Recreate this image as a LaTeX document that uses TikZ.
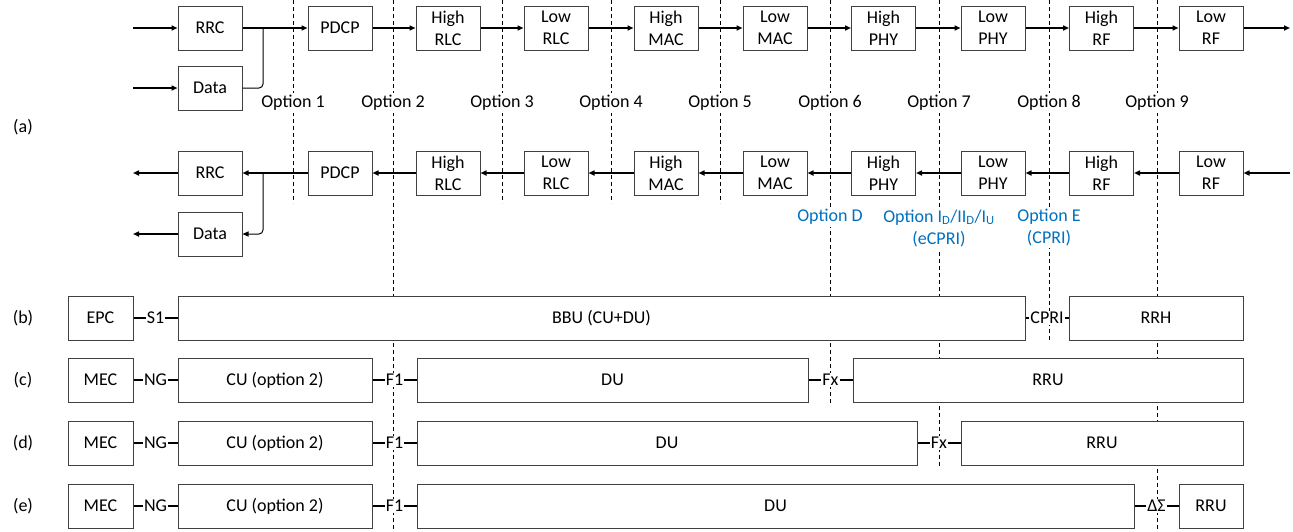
\documentclass[tikz,border=0pt]{standalone}
\usepackage{fontspec}
\setmainfont{Carlito}
\usetikzlibrary{arrows.meta}
\definecolor{optblue}{RGB}{0,112,192}
\definecolor{boxline}{RGB}{64,64,64}
\begin{document}
\begin{tikzpicture}[x=1pt,y=-1pt,
  font=\fontsize{18}{22}\selectfont,
  box/.style={draw=boxline, line width=1pt, fill=white, minimum width=64pt, minimum height=44pt, inner sep=0pt, align=center},
  wbox/.style={box, minimum width=#1},
  arr/.style={line width=1.6pt, -{Triangle[length=6pt,width=5pt]}},
  thinarr/.style={line width=1pt, -{Triangle[length=6pt,width=5pt]}},
  ln/.style={line width=1.6pt},
  cut/.style={line width=0.8pt, dash pattern=on 4pt off 3pt},
  opt/.style={fill=white, inner sep=2pt},
  bopt/.style={fill=white, inner sep=2pt, text=optblue, align=center},
  conn/.style={fill=white, inner sep=1pt},
]
\useasboundingbox (0,0) rectangle (1293,531);

% cut lines and option labels
\foreach \x/\b/\n in {293/203/1, 393/531/2, 502/203/3, 611/203/4, 720/203/5, 830/403/6, 939/467/7, 1049/342/8, 1157/531/9} {
  \coordinate (ct\n) at (\x,0);
  \coordinate (cb\n) at (\x,\b);
  \draw[cut] (ct\n) -- (cb\n);
  \node[opt] (o\n) at (\x,103) {Option \n};
}
\node[bopt] (oD) at (830,217) {Option D};
\node[bopt] (oI) at (939,228) {Option I\textsubscript{D}/II\textsubscript{D}/I\textsubscript{U}\\(eCPRI)};
\node[bopt] (oE) at (1049,228) {Option E\\(CPRI)};

% row labels
\node (la) at (23,127) {(a)};
\node (lb) at (23,318) {(b)};
\node (lc) at (23,380) {(c)};
\node (ld) at (23,443) {(d)};
\node (le) at (23,506) {(e)};

% (a) upper chain
\node[box] (rrc)  at (210,28) {RRC};
\node[box] (data) at (210,88) {Data};
\node[box] (pdcp) at (340,28) {PDCP};
\node[box] (hrlc) at (448,28) {High\\RLC};
\node[box] (lrlc) at (556,28) {Low\\RLC};
\node[box] (hmac) at (666,28) {High\\MAC};
\node[box] (lmac) at (775,28) {Low\\MAC};
\node[box] (hphy) at (883.5,28) {High\\PHY};
\node[box] (lphy) at (993,28) {Low\\PHY};
\node[box] (hrf)  at (1101.5,28) {High\\RF};
\node[box] (lrf)  at (1211,28) {Low\\RF};

\coordinate (inA) at (133,28);
\coordinate (inB) at (133,88);
\coordinate (outA) at (1290,28);
\coordinate (j1) at (263,28);
\draw[arr] (inA) -- (rrc);
\draw[arr] (inB) -- (data);
\draw[line width=1pt, rounded corners=4pt] (data.east) -| (j1);
\draw[arr] (rrc) -- (pdcp);
\draw[arr] (pdcp) -- (hrlc);
\draw[arr] (hrlc) -- (lrlc);
\draw[arr] (lrlc) -- (hmac);
\draw[arr] (hmac) -- (lmac);
\draw[arr] (lmac) -- (hphy);
\draw[arr] (hphy) -- (lphy);
\draw[arr] (lphy) -- (hrf);
\draw[arr] (hrf) -- (lrf);
\draw[arr] (lrf) -- (outA);

% (a) lower chain
\node[box] (rrc2)  at (210,173) {RRC};
\node[box] (data2) at (210,234) {Data};
\node[box] (pdcp2) at (340,173) {PDCP};
\node[box] (hrlc2) at (448,173) {High\\RLC};
\node[box] (lrlc2) at (556,173) {Low\\RLC};
\node[box] (hmac2) at (666,173) {High\\MAC};
\node[box] (lmac2) at (775,173) {Low\\MAC};
\node[box] (hphy2) at (883.5,173) {High\\PHY};
\node[box] (lphy2) at (993,173) {Low\\PHY};
\node[box] (hrf2)  at (1101.5,173) {High\\RF};
\node[box] (lrf2)  at (1211,173) {Low\\RF};

\coordinate (inC) at (1290,173);
\coordinate (outC) at (133,173);
\coordinate (outD) at (133,234);
\coordinate (j2) at (263,173);
\draw[arr] (inC) -- (lrf2);
\draw[arr] (lrf2) -- (hrf2);
\draw[arr] (hrf2) -- (lphy2);
\draw[arr] (lphy2) -- (hphy2);
\draw[arr] (hphy2) -- (lmac2);
\draw[arr] (lmac2) -- (hmac2);
\draw[arr] (hmac2) -- (lrlc2);
\draw[arr] (lrlc2) -- (hrlc2);
\draw[arr] (hrlc2) -- (pdcp2);
\draw[arr] (pdcp2) -- (rrc2);
\draw[arr] (rrc2) -- (outC);
\draw[arr] (data2) -- (outD);
\draw[thinarr, rounded corners=4pt] (j2) |- (data2.east);

% (b)
\node[wbox=65pt] (epc) at (100.5,318) {EPC};
\node[wbox=847pt] (bbu) at (601.5,318) {BBU (CU+DU)};
\node[wbox=174pt] (rrh) at (1156,318) {RRH};
\draw[ln] (epc) -- node[conn] {S1} (bbu);
\draw[ln] (bbu) -- node[conn] {CPRI} (rrh);

% (c)
\node[wbox=65pt] (mecc) at (100.5,380) {MEC};
\node[wbox=194pt] (cuc) at (275,380) {CU (option 2)};
\node[wbox=391pt] (duc) at (612.5,380) {DU};
\node[wbox=390pt] (rruc) at (1048,380) {RRU};
\draw[ln] (mecc) -- node[conn] {NG} (cuc);
\draw[ln] (cuc) -- node[conn] {F1} (duc);
\draw[ln] (duc) -- node[conn] {Fx} (rruc);

% (d)
\node[wbox=65pt] (mecd) at (100.5,443) {MEC};
\node[wbox=194pt] (cud) at (275,443) {CU (option 2)};
\node[wbox=500pt] (dud) at (667,443) {DU};
\node[wbox=282pt] (rrud) at (1102,443) {RRU};
\draw[ln] (mecd) -- node[conn] {NG} (cud);
\draw[ln] (cud) -- node[conn] {F1} (dud);
\draw[ln] (dud) -- node[conn] {Fx} (rrud);

% (e)
\node[wbox=65pt] (mece) at (100.5,506) {MEC};
\node[wbox=194pt] (cue) at (275,506) {CU (option 2)};
\node[wbox=717pt] (due) at (775.5,506) {DU};
\node[wbox=64pt] (rrue) at (1211,506) {RRU};
\draw[ln] (mece) -- node[conn] {NG} (cue);
\draw[ln] (cue) -- node[conn] {F1} (due);
\draw[ln] (due) -- node[conn] {ΔΣ} (rrue);
\end{tikzpicture}
\end{document}
